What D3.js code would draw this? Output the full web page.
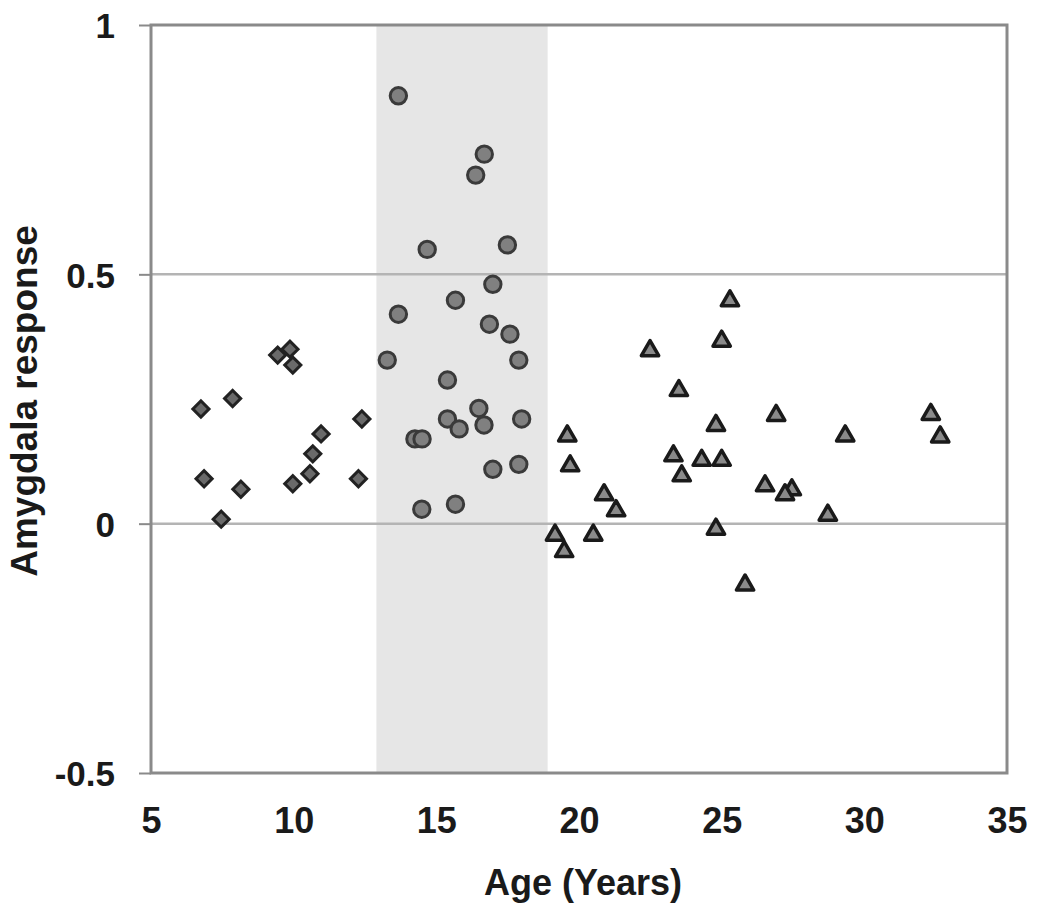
<!DOCTYPE html>
<html>
<head>
<meta charset="utf-8">
<script src="https://cdn.jsdelivr.net/npm/d3@7"></script>
<style>
  body { margin: 0; background: #fff; }
  text { font-family: Arial, "Liberation Sans", sans-serif; fill: #1a1a1a; }
</style>
</head>
<body>
<div id="chart"></div>
<script>
// children (diamonds)
const childAge  = [6.75, 6.86, 7.46, 7.86, 8.15, 9.44, 9.87, 9.97, 9.97, 10.57, 10.67, 10.96, 12.39, 12.27];
const childResp = [0.230, 0.090, 0.009, 0.251, 0.069, 0.338, 0.350, 0.318, 0.080, 0.100, 0.140, 0.180, 0.210, 0.090];

// adolescents (circles)
const teenAge  = [13.67, 16.68, 16.38, 14.68, 17.49, 16.98, 15.67, 13.67, 16.86, 17.58, 13.28, 17.89,
                  15.39, 16.49, 15.39, 15.80, 16.67, 17.99, 14.25, 14.50, 16.98, 17.89, 14.49, 15.67];
const teenResp = [0.858, 0.741, 0.699, 0.550, 0.559, 0.480, 0.448, 0.420, 0.400, 0.380, 0.328, 0.328,
                  0.288, 0.231, 0.210, 0.190, 0.198, 0.210, 0.170, 0.170, 0.109, 0.119, 0.029, 0.039];

// adults (triangles)
const adultAge  = [25.29, 25.00, 22.49, 23.50, 26.91, 32.33, 32.66, 29.33, 19.59, 24.80, 19.69, 23.31, 24.30,
                   25.00, 23.60, 26.52, 27.46, 27.22, 20.88, 21.30, 28.72, 19.16, 19.48, 20.50, 24.80, 25.82];
const adultResp = [0.447, 0.366, 0.347, 0.267, 0.217, 0.219, 0.174, 0.176, 0.176, 0.197, 0.116, 0.136, 0.127,
                   0.127, 0.096, 0.076, 0.068, 0.058, 0.058, 0.026, 0.017, -0.023, -0.056, -0.023, -0.011, -0.123];

const xTicks = [5, 10, 15, 20, 25, 30, 35];
const yTicks = [-0.5, 0, 0.5, 1];
const yGrid = [0, 0.5];
const shadeRange = [12.9, 18.9];

const width = 1050, height = 924;
const margin = {top: 25, right: 43, bottom: 151, left: 151};

const svg = d3.select("#chart").append("svg")
    .attr("width", width)
    .attr("height", height);

const x = d3.scaleLinear().domain([5, 35]).range([margin.left, width - margin.right]);
const y = d3.scaleLinear().domain([-0.5, 1]).range([height - margin.bottom, margin.top]);

// shaded adolescence band
svg.append("rect")
    .attr("x", x(shadeRange[0]))
    .attr("y", y(1))
    .attr("width", x(shadeRange[1]) - x(shadeRange[0]))
    .attr("height", y(-0.5) - y(1))
    .attr("fill", "#e6e6e6");

// gridlines
svg.selectAll(".grid")
    .data(yGrid)
    .enter().append("line")
    .attr("class", "grid")
    .attr("x1", x(5)).attr("x2", x(35))
    .attr("y1", d => y(d)).attr("y2", d => y(d))
    .attr("stroke", "#b4b4b4")
    .attr("stroke-width", 2.5);

// frame
svg.append("rect")
    .attr("x", x(5)).attr("y", y(1))
    .attr("width", x(35) - x(5))
    .attr("height", y(-0.5) - y(1))
    .attr("fill", "none")
    .attr("stroke", "#8a8a8a")
    .attr("stroke-width", 3);

// y axis
const yAxis = svg.append("g")
    .attr("transform", `translate(${x(5)},0)`)
    .call(d3.axisLeft(y).tickValues(yTicks).tickSize(12).tickPadding(24).tickFormat(d => String(d)));
yAxis.select(".domain").remove();
yAxis.selectAll("line").attr("stroke", "#8a8a8a").attr("stroke-width", 2);
yAxis.selectAll("text")
    .attr("dy", "0.37em")
    .style("font-size", "35px")
    .style("font-weight", "bold")
    .style("fill", "#1a1a1a");

// x axis
const xAxis = svg.append("g")
    .attr("transform", `translate(0,${y(-0.5)})`)
    .call(d3.axisBottom(x).tickValues(xTicks).tickSize(0).tickFormat(d => String(d)));
xAxis.select(".domain").remove();
xAxis.selectAll("text")
    .attr("y", 60)
    .attr("dy", 0)
    .style("font-size", "36px")
    .style("font-weight", "bold")
    .style("fill", "#1a1a1a");

// axis titles
svg.append("text")
    .attr("x", 583)
    .attr("y", 895)
    .attr("text-anchor", "middle")
    .style("font-size", "36px")
    .style("font-weight", "bold")
    .text("Age (Years)");

svg.append("text")
    .attr("transform", "translate(37,401) rotate(-90)")
    .attr("text-anchor", "middle")
    .style("font-size", "37px")
    .style("font-weight", "bold")
    .text("Amygdala response");

// points
const children = childAge.map((a, i) => ({age: a, resp: childResp[i]}));
const teens = teenAge.map((a, i) => ({age: a, resp: teenResp[i]}));
const adults = adultAge.map((a, i) => ({age: a, resp: adultResp[i]}));

svg.append("g").selectAll("path")
    .data(children)
    .enter().append("path")
    .attr("d", d3.symbol().type(d3.symbolSquare).size(130))
    .attr("transform", d => `translate(${x(d.age)},${y(d.resp)}) rotate(45)`)
    .attr("fill", "#6a6a6a")
    .attr("stroke", "#222")
    .attr("stroke-width", 3);

svg.append("g").selectAll("circle")
    .data(teens)
    .enter().append("circle")
    .attr("cx", d => x(d.age))
    .attr("cy", d => y(d.resp))
    .attr("r", 8.2)
    .attr("fill", "#808080")
    .attr("stroke", "#3a3a3a")
    .attr("stroke-width", 3);

svg.append("g").selectAll("path")
    .data(adults)
    .enter().append("path")
    .attr("d", d3.symbol().type(d3.symbolTriangle).size(130))
    .attr("transform", d => `translate(${x(d.age)},${y(d.resp)})`)
    .attr("fill", "#8a8a8a")
    .attr("stroke", "#1a1a1a")
    .attr("stroke-width", 3.5)
    .attr("stroke-linejoin", "round");
</script>
</body>
</html>
